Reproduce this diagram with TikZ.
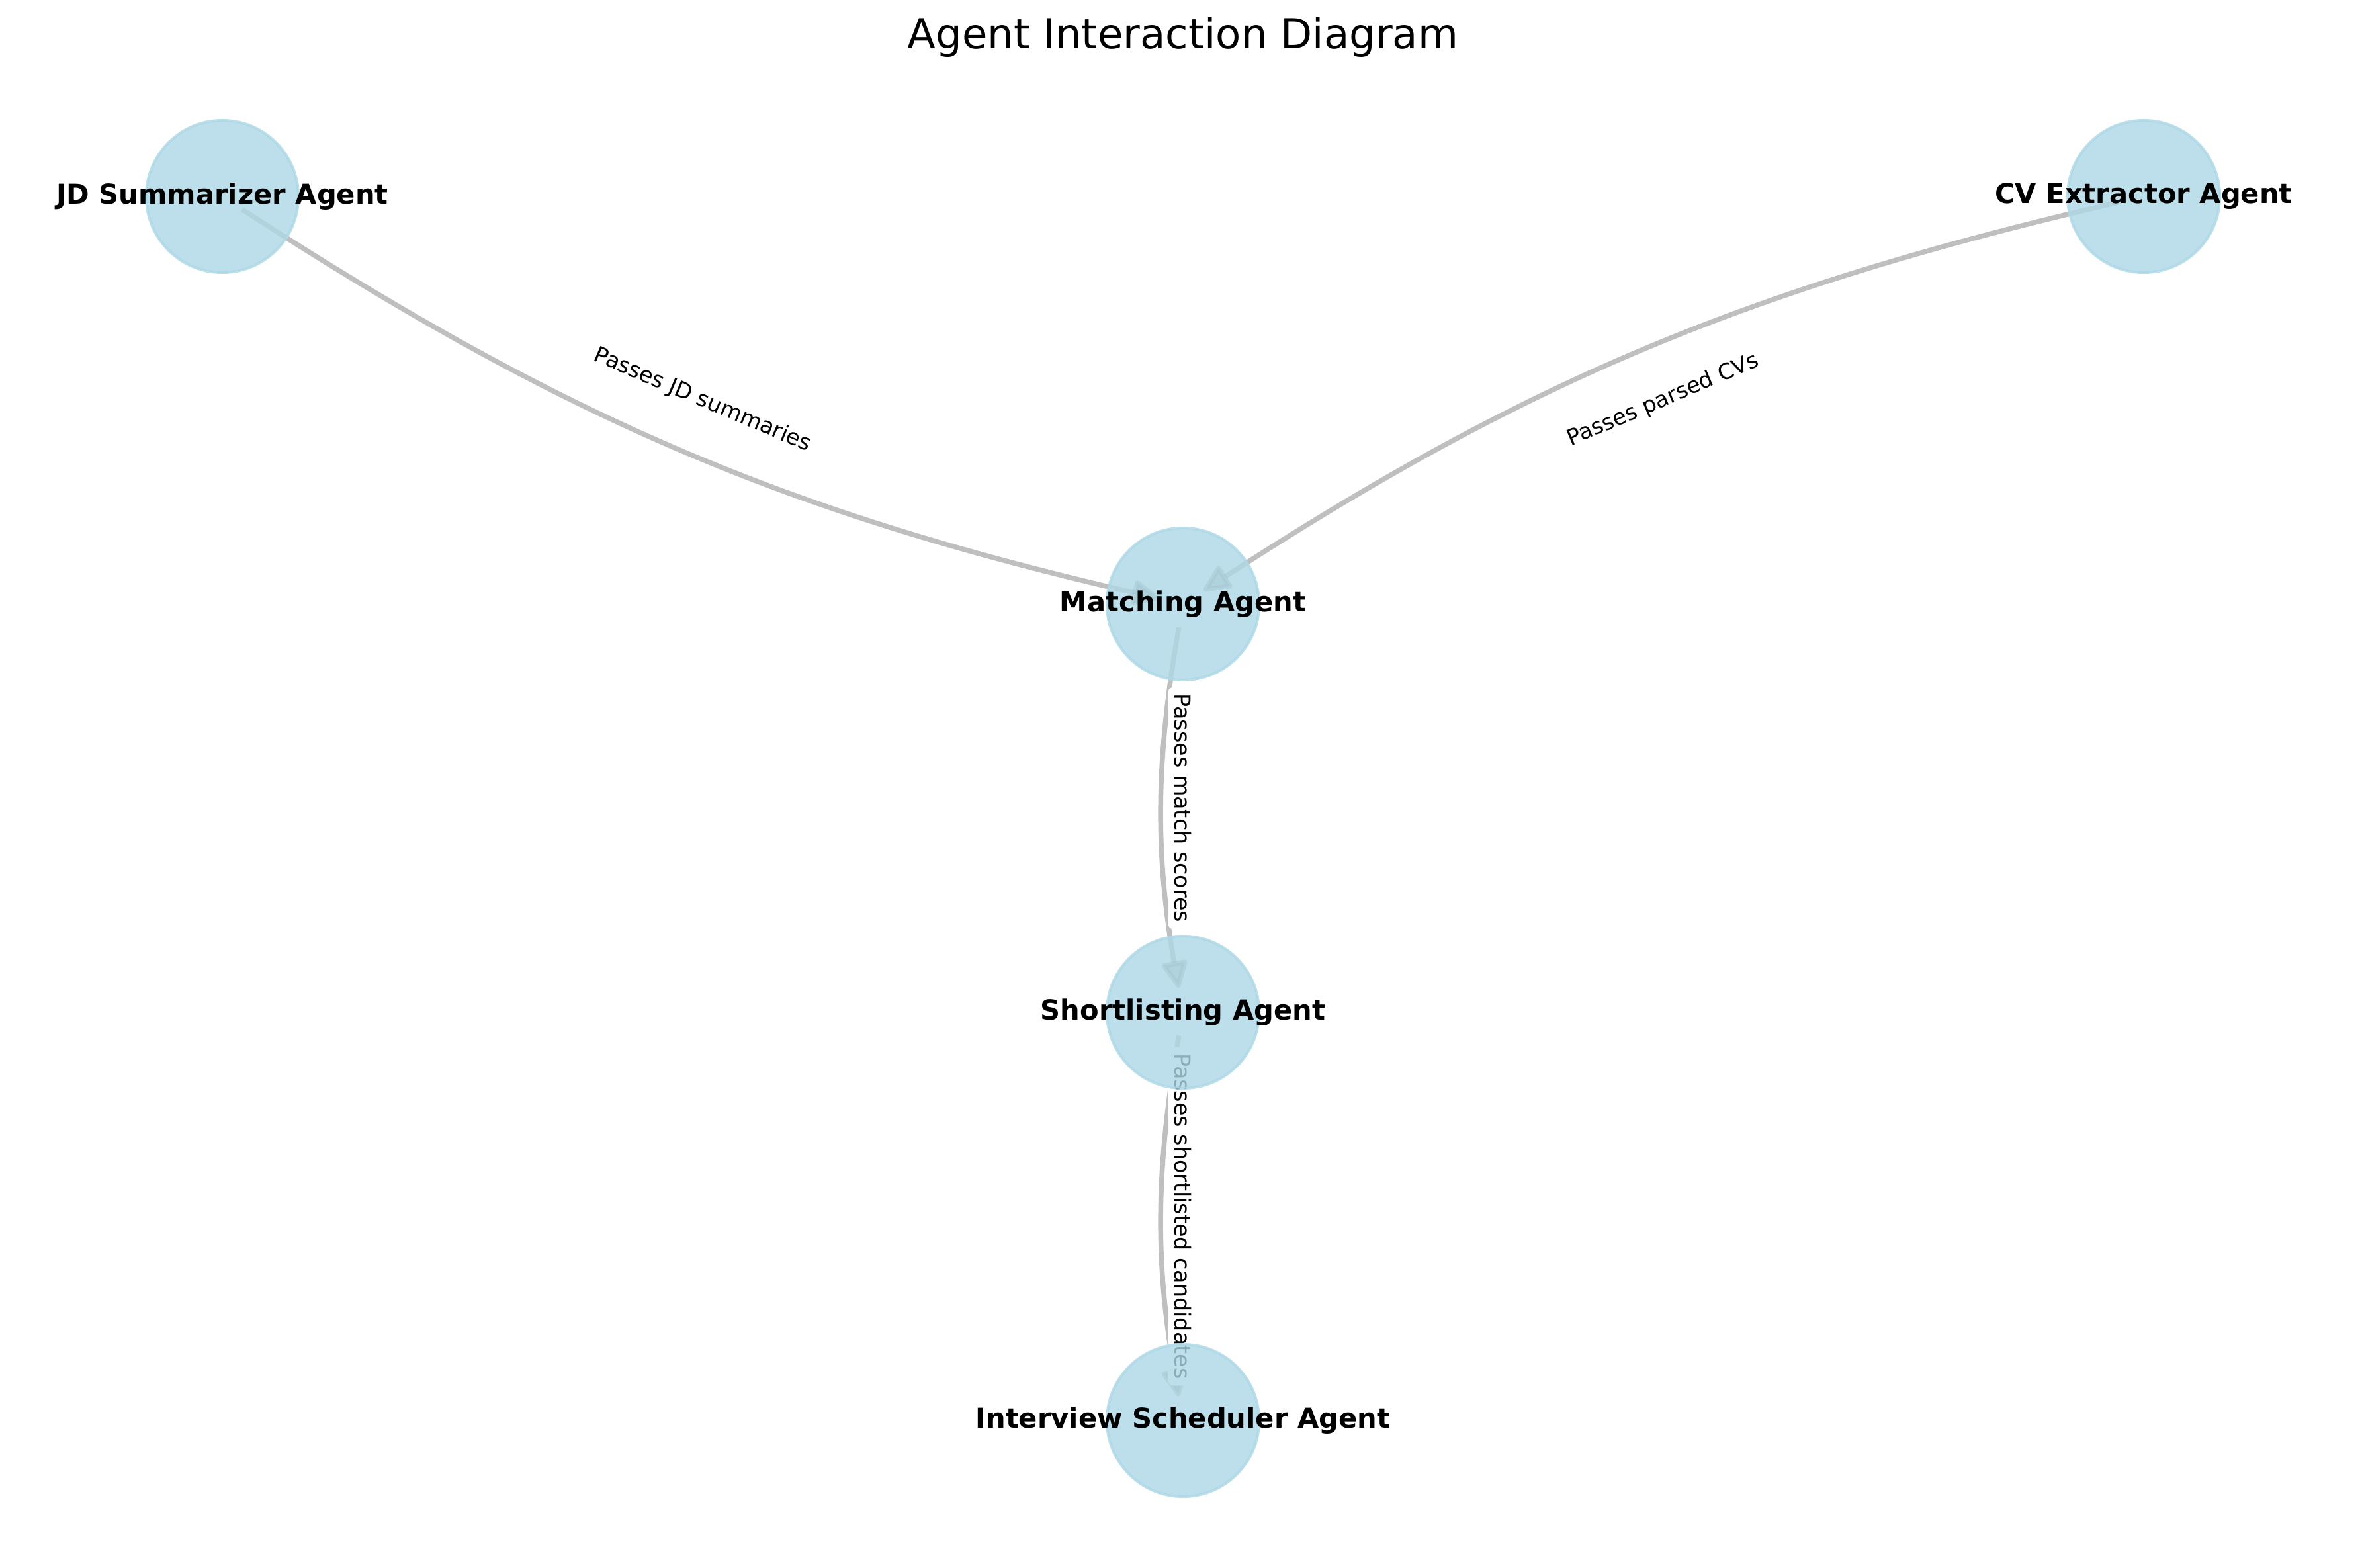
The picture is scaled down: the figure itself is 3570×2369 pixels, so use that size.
\documentclass[tikz,border=0pt]{standalone}
\usepackage{fontspec}
\setmainfont{DejaVu Sans}
\usepackage{xcolor}
\usetikzlibrary{arrows.meta}
\definecolor{nodeblue}{RGB}{173,216,230}
\definecolor{edgegray}{RGB}{128,128,128}
\pgfdeclarelayer{edges}
\pgfdeclarelayer{edgetexts}
\pgfsetlayers{edges,edgetexts,main}

\begin{document}
\begin{tikzpicture}[x=0.24pt, y=0.24pt,
            agent/.style = {shape=circle, minimum size=55.2pt, inner sep=0pt,
                            fill=nodeblue, draw=nodeblue, line width=1pt,
                            fill opacity=0.8, draw opacity=0.8},
            agentname/.style = {font=\fontsize{10}{12}\selectfont\bfseries, inner sep=0pt},
            flow/.style = {draw=edgegray, opacity=0.5, line width=1.8pt,
                           -{Triangle[length=11pt, width=10pt, round]},
                           shorten <=8.6pt, shorten >=9pt, bend right=10},
            elabel/.style = {font=\fontsize{8}{9.6}\selectfont, fill=white,
                             rounded corners=2pt, inner sep=2.4pt}]
    \useasboundingbox (0,0) rectangle (3570,2369);
    % agents
    \node[agent] (jd) at (336,2072) {};
    \node[agent] (cv) at (3240,2072) {};
    \node[agent] (match) at (1788,1456) {};
    \node[agent] (short) at (1788,839) {};
    \node[agent] (inter) at (1788,222) {};
    \node[agentname] (jd-t) at (jd) {JD Summarizer Agent};
    \node[agentname] (cv-t) at (cv) {CV Extractor Agent};
    \node[agentname] (match-t) at (match) {Matching Agent};
    \node[agentname] (short-t) at (short) {Shortlisting Agent};
    \node[agentname] (inter-t) at (inter) {Interview Scheduler Agent};
    \node[font=\fontsize{15}{18}\selectfont] (title) at (1788,2313) {Agent Interaction Diagram};
    % connectors
    \begin{pgfonlayer}{edges}
        \fill[white] (0,0) rectangle (3570,2369);
        \draw[flow] (jd.center) to (match.center);
        \draw[flow] (cv.center) to (match.center);
        \draw[flow] (match.center) to (short.center);
        \draw[flow] (short.center) to (inter.center);
    \end{pgfonlayer}
    \begin{pgfonlayer}{edgetexts}
        \path (jd.center) -- (match.center) node[midway, elabel, rotate=-23] (jd-l) {Passes JD summaries};
        \path (cv.center) -- (match.center) node[midway, elabel, rotate=23] (cv-l) {Passes parsed CVs};
        \path (match.center) -- (short.center) node[midway, elabel, rotate=-90] (match-l) {Passes match scores};
        \path (short.center) -- (inter.center) node[midway, elabel, rotate=-90] (short-l) {Passes shortlisted candidates};
    \end{pgfonlayer}
\end{tikzpicture}
\end{document}
